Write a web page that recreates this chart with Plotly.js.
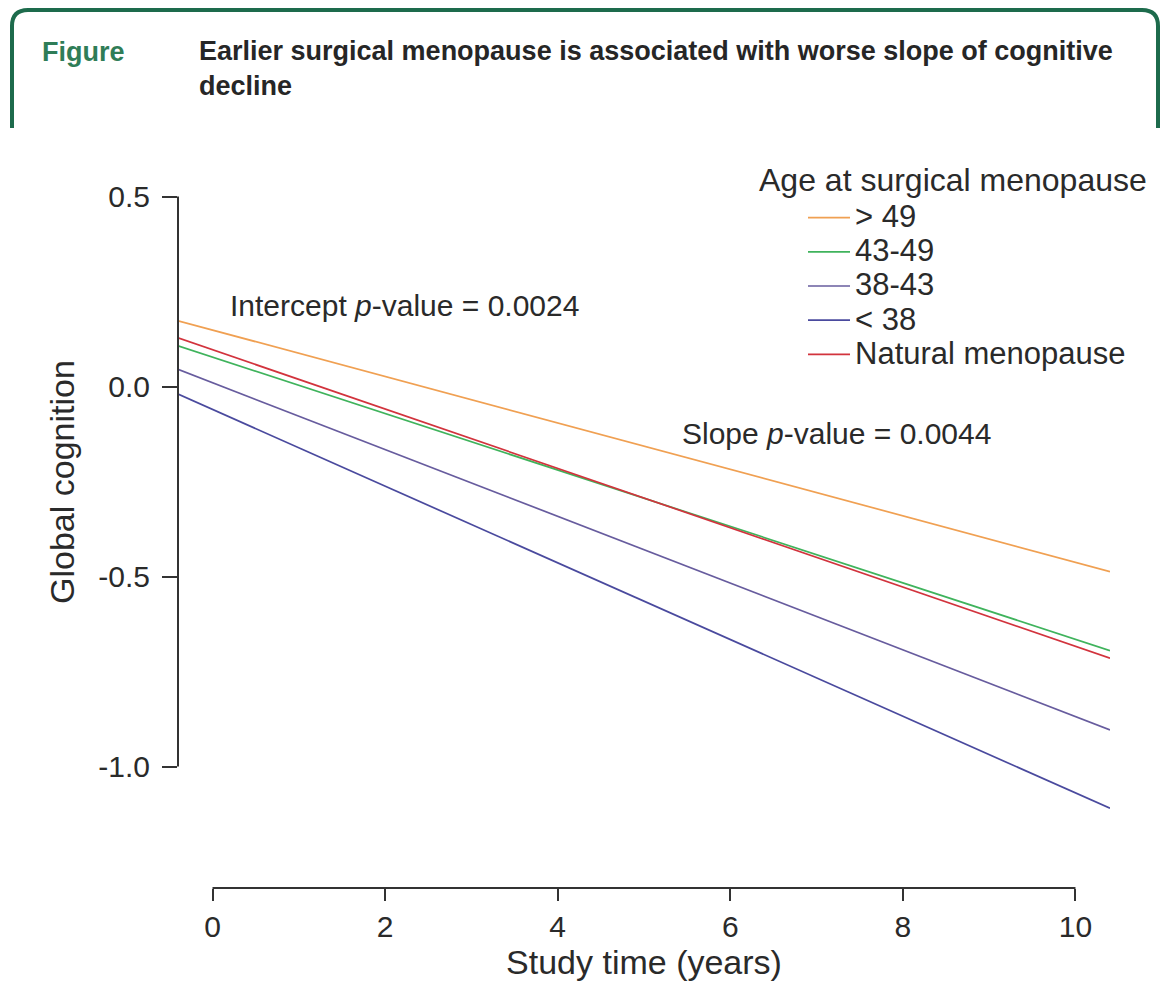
<!DOCTYPE html>
<html>
<head>
<meta charset="utf-8">
<script src="https://cdn.plot.ly/plotly-3.0.1.min.js"></script>
<style>
  html, body { margin: 0; padding: 0; background: #fff; }
  #chart { width: 1161px; height: 983px; }
</style>
</head>
<body>
<div id="chart"></div>
<script>
// ---- data ----
const studyTime = [-0.4, 10.4];
const seriesNames = ["> 49", "43-49", "38-43", "< 38", "Natural menopause"];
const over49 = [0.173, -0.487];
const age43to49 = [0.107, -0.695];
const age38to43 = [0.045, -0.904];
const under38 = [-0.020, -1.110];
const naturalMeno = [0.128, -0.715];
const yTickVals = [-1.0, -0.5, 0.0, 0.5];
const yTickText = ["-1.0", "-0.5", "0.0", "0.5"];
const xTickVals = [0, 2, 4, 6, 8, 10];

const colors = ["#f0a052", "#3fb35c", "#675c9e", "#4a4a9e", "#d2333d"];
const seriesValues = [over49, age43to49, age38to43, under38, naturalMeno];

// ---- layout helpers (pixel -> paper) ----
const W = 1161, H = 983;
const M = { l: 178, r: 51, t: 165, b: 95 };
const PW = W - M.l - M.r, PH = H - M.t - M.b;
const px = x => (x - M.l) / PW;
const py = y => (H - M.b - y) / PH;

const traces = seriesValues.map((v, i) => ({
  x: studyTime, y: v, type: "scatter", mode: "lines",
  name: '<span style="font-size:31px">' + seriesNames[i] + '</span>',
  legendgroup: "g" + i,
  line: { color: colors[i], width: 1.7 }
}));

const font = "Liberation Sans, Arial, Helvetica, sans-serif";
const narrow = "Liberation Sans Narrow, Arial Narrow, Liberation Sans, Arial, sans-serif";
const txt = "#2a2a2a";
const green = "#1d6b4c";

const hdr = `M ${px(12)},${py(128)} L ${px(12)},${py(26)} Q ${px(12)},${py(10)} ${px(28)},${py(10)} L ${px(1142)},${py(10)} Q ${px(1158)},${py(10)} ${px(1158)},${py(26)} L ${px(1158)},${py(128)}`;

const layout = {
  width: W, height: H,
  margin: M,
  paper_bgcolor: "#fff", plot_bgcolor: "#fff",
  font: { family: font, color: txt, size: 30 },
  showlegend: true,
  legend: {
    x: px(803), y: py(195.5), xanchor: "left", yanchor: "top",
    font: { family: font, size: 24, color: txt },
    bgcolor: "rgba(0,0,0,0)", borderwidth: 0,
    tracegroupgap: 0, itemwidth: 42
  },
  xaxis: {
    range: [-0.4, 10.4], showgrid: false, zeroline: false, showline: false,
    tickvals: xTickVals, ticks: "outside", ticklen: 12, tickwidth: 2, tickcolor: "#333",
    tickfont: { family: font, size: 30, color: txt },
    title: { text: "Study time (years)", font: { family: font, size: 34, color: txt }, standoff: 6 },
    fixedrange: true
  },
  yaxis: {
    range: [(386.5 - 888) / 380, (386.5 - 165) / 380],
    showgrid: false, zeroline: false, showline: false,
    tickvals: yTickVals, ticktext: yTickText,
    ticks: "outside", ticklen: 15, tickwidth: 2, tickcolor: "#333",
    ticklabelstandoff: 6,
    tickfont: { family: font, size: 30, color: txt },
    fixedrange: true
  },
  shapes: [
    { type: "line", xref: "x", yref: "paper", x0: 0, x1: 10, y0: 0, y1: 0, line: { color: "#333", width: 2 } },
    { type: "line", xref: "paper", yref: "y", x0: 0, x1: 0, y0: -1.0, y1: 0.5, line: { color: "#333", width: 2 } },
    { type: "path", xref: "paper", yref: "paper", path: hdr, line: { color: green, width: 4 } }
  ],
  annotations: [
    { text: "<b>Figure</b>", xref: "paper", yref: "paper", x: px(40), y: py(52), xanchor: "left", yanchor: "middle",
      showarrow: false, font: { family: narrow, size: 27, color: "#2f7d57" } },
    { text: "<b>Earlier surgical menopause is associated with worse slope of cognitive<br>decline</b>", xref: "paper", yref: "paper",
      x: px(197), y: py(34), xanchor: "left", yanchor: "top", align: "left",
      showarrow: false, font: { family: narrow, size: 27, color: "#262626" } },
    { text: "Age at surgical menopause", xref: "paper", yref: "paper", x: px(757), y: py(180), xanchor: "left", yanchor: "middle",
      showarrow: false, font: { family: font, size: 32, color: txt } },
    { text: "Intercept <i>p</i>-value = 0.0024", xref: "paper", yref: "paper", x: px(228), y: py(305), xanchor: "left", yanchor: "middle",
      showarrow: false, font: { family: font, size: 30, color: txt } },
    { text: "Slope <i>p</i>-value = 0.0044", xref: "paper", yref: "paper", x: px(680), y: py(433), xanchor: "left", yanchor: "middle",
      showarrow: false, font: { family: font, size: 30, color: txt } },
    { text: "Global cognition", xref: "paper", yref: "paper", x: px(62), y: py(482), xanchor: "center", yanchor: "middle",
      textangle: -90, showarrow: false, font: { family: font, size: 34, color: txt } }
  ]
};

Plotly.newPlot("chart", traces, layout, { displayModeBar: false, staticPlot: true });
</script>
</body>
</html>
